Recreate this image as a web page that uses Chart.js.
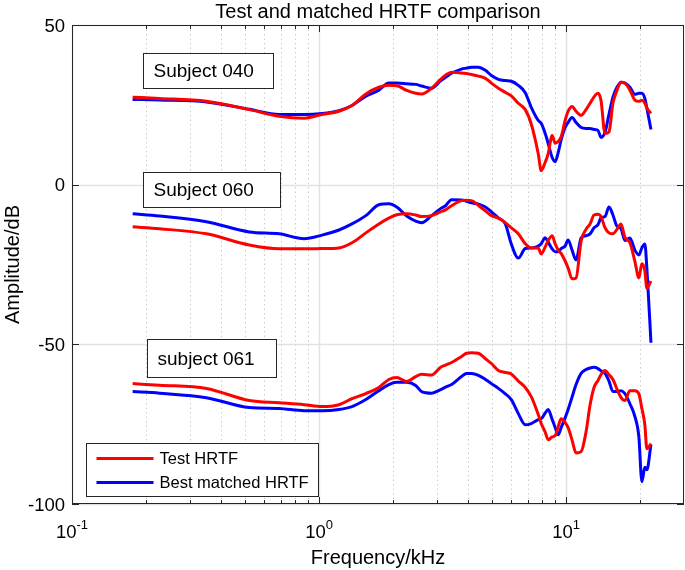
<!DOCTYPE html>
<html><head><meta charset="utf-8">
<script src="https://cdn.jsdelivr.net/npm/chart.js@4"></script>
<style>html,body{margin:0;padding:0;background:#fff}#wrap{width:685px;height:570px;position:relative}</style>
</head><body><div id="wrap"><canvas id="c"></canvas></div>
<script>
// ---- data (frequency in kHz, amplitude in dB) ----
const freqKHz = [0.176,0.226,0.350,0.522,0.690,0.870,1.028,1.204,1.359,1.547,1.746,1.916,2.063,2.264,2.461,2.602,2.855,3.104,3.251,3.438,3.772,3.953,4.140,4.418,4.714,4.984,5.319,5.675,6.000,6.405,6.834,7.225,7.712,7.929,8.229,8.461,8.780,9.028,9.284,9.546,9.908,10.19,10.57,10.97,11.50,12.04,12.50,12.97,13.46,13.84,14.37,14.91,15.47,16.06,16.67,17.30,18.12,18.98,19.70,20.26,20.83,21.22,22.05];
const test040  = [27.4,27.0,26.1,23.5,21.4,20.8,22.0,23.0,24.8,28.4,30.5,31.1,31.0,29.5,28.6,28.4,30.2,33.0,34.3,35.2,35.0,34.8,34.5,34.0,33.3,31.8,30.2,28.9,27.8,25.5,23.5,19.0,9.7,4.4,7.0,9.7,15.4,13.0,13.5,15.0,20.1,23.0,24.5,23.0,21.7,23.5,25.5,27.5,28.6,26.4,16.0,16.5,25.5,29.5,32.1,31.8,29.6,26.5,26.1,26.4,25.5,24.0,22.3];
const match040 = [26.7,26.5,25.9,23.6,22.0,22.0,22.3,23.2,24.8,27.7,29.6,31.8,31.8,31.6,31.4,30.9,30.2,32.5,33.6,34.9,36.2,36.5,36.8,36.8,35.8,34.2,33.0,32.6,32.4,31.1,28.8,24.2,20.1,19.2,16.0,12.9,8.5,7.2,10.0,14.0,17.9,19.5,21.0,19.5,17.9,17.6,17.6,17.3,17.0,14.8,16.4,22.0,27.4,30.5,32.1,31.8,30.5,28.3,28.6,28.6,27.0,24.0,17.3];
const test060  = [-13.2,-13.8,-15.4,-18.9,-20.1,-20.1,-20.0,-19.8,-18.2,-15.1,-12.3,-10.5,-9.4,-9.1,-9.5,-10.0,-9.7,-8.5,-7.9,-6.6,-5.0,-4.9,-5.0,-6.5,-8.2,-9.7,-10.5,-11.9,-13.5,-15.4,-18.5,-19.8,-19.8,-21.7,-19.5,-17.5,-16.0,-18.5,-20.5,-21.5,-23.9,-26.1,-29.5,-29.2,-17.6,-14.0,-12.3,-9.5,-9.3,-10.0,-13.5,-15.1,-15.4,-14.0,-12.3,-16.5,-18.2,-24.0,-29.2,-24.8,-27.0,-32.4,-30.2];
const match060 = [-9.1,-9.8,-11.6,-14.8,-15.4,-16.9,-15.8,-14.2,-12.3,-9.7,-6.3,-6.0,-7.0,-9.8,-11.4,-11.9,-9.7,-7.5,-6.6,-4.7,-4.8,-5.2,-5.7,-6.1,-7.0,-8.5,-10.4,-12.3,-18.6,-23.0,-20.0,-19.8,-19.2,-18.5,-16.6,-18.0,-20.1,-21.0,-21.0,-20.0,-19.2,-17.3,-20.5,-23.6,-16.7,-16.0,-15.4,-13.5,-12.5,-10.4,-10.0,-7.0,-9.5,-13.0,-13.8,-17.5,-16.7,-20.5,-22.0,-19.8,-18.6,-26.1,-49.5];
const test061  = [-62.3,-62.8,-63.8,-67.6,-68.3,-68.9,-69.5,-68.9,-67.0,-65.4,-63.5,-61.0,-60.4,-61.6,-60.1,-59.4,-59.6,-57.2,-56.5,-55.7,-53.8,-52.8,-52.6,-52.8,-54.5,-56.0,-58.2,-58.8,-59.3,-61.5,-63.5,-66.4,-72.0,-74.8,-77.5,-79.9,-79.0,-78.6,-75.8,-73.3,-74.5,-76.1,-80.0,-84.0,-83.6,-77.4,-69.0,-63.5,-61.3,-59.5,-58.2,-59.5,-61.0,-64.0,-66.6,-67.6,-64.5,-64.5,-65.5,-70.1,-75.2,-82.7,-81.1];
const match061 = [-64.8,-65.3,-66.7,-69.8,-70.1,-70.8,-70.8,-70.4,-69.5,-67.3,-64.5,-62.6,-61.9,-61.9,-62.9,-64.8,-65.3,-64.2,-63.4,-62.6,-60.1,-59.1,-59.1,-59.7,-61.0,-62.3,-63.8,-65.5,-67.3,-71.7,-75.2,-74.8,-73.6,-73.3,-71.5,-70.4,-73.5,-76.0,-78.3,-76.1,-73.0,-70.4,-66.5,-62.6,-59.1,-57.9,-57.4,-57.2,-57.6,-58.3,-59.1,-61.5,-64.8,-64.8,-64.5,-65.4,-68.6,-72.6,-79.0,-93.0,-88.5,-89.3,-81.4];

const xMajorTicks = [0.1, 1, 10];
const xTickExponents = ['-1', '0', '1'];
const xMinorTicks = [0.2,0.3,0.4,0.5,0.6,0.7,0.8,0.9,2,3,4,5,6,7,8,9,20];
const yTicks = [-100, -50, 0, 50];
const subjectNames = ['Subject 040', 'Subject 060', 'subject 061'];
const seriesNames = ['Test HRTF', 'Best matched HRTF'];

// annotation boxes in data coordinates [fLeft, fRight, dBTop, dBBottom]
const subjectBoxes = [[0.193,0.652,41.2,30.3],[0.193,0.697,4.0,-7.0],[0.2006,0.670,-48.3,-60.2]];

const FONT = '"Liberation Sans", Arial, Helvetica, sans-serif';
const INK = '#262626';
const pts = arr => freqKHz.map((f, i) => ({x: f, y: arr[i]}));
const RED = '#ff0000', BLUE = '#0000ff';
function ds(label, arr, color){
  return {label, data: pts(arr), borderColor: color, backgroundColor: color, borderWidth: 3,
          pointRadius: 0, cubicInterpolationMode: 'monotone', fill: false};
}

const hrtfPlugin = {
  id: 'hrtf',
  beforeDraw(chart){
    const c = chart.ctx; c.save(); c.fillStyle = '#fff'; c.fillRect(0,0,chart.width,chart.height); c.restore();
  },
  beforeDatasetsDraw(chart){
    const {ctx: c, chartArea: a, scales: {x, y}} = chart;
    c.save();
    c.lineWidth = 1;
    c.strokeStyle = '#cccccc'; c.setLineDash([1.5, 3]);
    xMinorTicks.forEach(v => { const p = Math.round(x.getPixelForValue(v)) + 0.5;
      c.beginPath(); c.moveTo(p, a.top); c.lineTo(p, a.bottom); c.stroke(); });
    c.setLineDash([]); c.strokeStyle = '#e2e2e2'; c.lineWidth = 1.5;
    xMajorTicks.forEach(v => { const p = Math.round(x.getPixelForValue(v)) + 0.5;
      c.beginPath(); c.moveTo(p, a.top); c.lineTo(p, a.bottom); c.stroke(); });
    yTicks.forEach(v => { const p = Math.round(y.getPixelForValue(v)) + 0.5;
      c.beginPath(); c.moveTo(a.left, p); c.lineTo(a.right, p); c.stroke(); });
    c.restore();
  },
  afterDatasetsDraw(chart){
    const {ctx: c, chartArea: a, scales: {x, y}} = chart;
    c.save();
    // box
    c.strokeStyle = INK; c.lineWidth = 1;
    c.strokeRect(Math.round(a.left)+0.5, Math.round(a.top)+0.5, Math.round(a.right-a.left)-1, Math.round(a.bottom-a.top)-1);
    // ticks
    const tick = (x1,y1,x2,y2) => { c.beginPath(); c.moveTo(x1,y1); c.lineTo(x2,y2); c.stroke(); };
    xMajorTicks.forEach(v => { const p = Math.round(x.getPixelForValue(v))+0.5; tick(p,a.top,p,a.top+7); tick(p,a.bottom,p,a.bottom-7); });
    xMinorTicks.forEach(v => { const p = Math.round(x.getPixelForValue(v))+0.5; tick(p,a.top,p,a.top+4); tick(p,a.bottom,p,a.bottom-4); });
    yTicks.forEach(v => { const p = Math.round(y.getPixelForValue(v))+0.5; tick(a.left,p,a.left+7,p); tick(a.right,p,a.right-7,p); });
    // y tick labels
    c.fillStyle = '#000'; c.font = '18.5px ' + FONT; c.textAlign = 'right'; c.textBaseline = 'middle';
    yTicks.forEach(v => c.fillText(String(v), a.left - 7, y.getPixelForValue(v) + 1.5));
    // x tick labels 10^n
    xMajorTicks.forEach((v, i) => {
      const p = x.getPixelForValue(v);
      c.font = '18.5px ' + FONT; const w1 = c.measureText('10').width;
      c.font = '13px ' + FONT; const w2 = c.measureText(xTickExponents[i]).width;
      const left = p - (w1 + w2) / 2;
      c.textAlign = 'left'; c.textBaseline = 'alphabetic';
      c.font = '18.5px ' + FONT; c.fillText('10', left, a.bottom + 34);
      c.font = '13px ' + FONT; c.fillText(xTickExponents[i], left + w1, a.bottom + 25);
    });
    // titles
    c.textAlign = 'center'; c.textBaseline = 'middle'; c.font = '20px ' + FONT;
    c.fillText('Test and matched HRTF comparison', (a.left + a.right) / 2, 12);
    c.fillText('Frequency/kHz', (a.left + a.right) / 2, 558);
    c.save(); c.translate(13, (a.top + a.bottom) / 2); c.rotate(-Math.PI/2);
    c.fillText('Amplitude/dB', 0, 0); c.restore();
    // subject boxes
    subjectBoxes.forEach((b, i) => {
      const l = Math.round(x.getPixelForValue(b[0]))+0.5, r = Math.round(x.getPixelForValue(b[1]))+0.5;
      const t = Math.round(y.getPixelForValue(b[2]))+0.5, bt = Math.round(y.getPixelForValue(b[3]))+0.5;
      c.fillStyle = '#fff'; c.fillRect(l, t, r-l, bt-t);
      c.strokeStyle = INK; c.lineWidth = 1; c.strokeRect(l, t, r-l, bt-t);
      c.fillStyle = '#000'; c.font = '19px ' + FONT; c.textAlign = 'left'; c.textBaseline = 'middle';
      c.fillText(subjectNames[i], l + 10, (t + bt) / 2 + 1);
    });
    // legend
    const lx = a.left + 14.5, ly = a.bottom - 60.5, lw = 232, lh = 53;
    c.fillStyle = '#fff'; c.fillRect(lx, ly, lw, lh);
    c.strokeStyle = INK; c.lineWidth = 1; c.strokeRect(lx, ly, lw, lh);
    [RED, BLUE].forEach((col, i) => {
      const yy = ly + 15 + i * 24;
      c.strokeStyle = col; c.lineWidth = 3; c.beginPath(); c.moveTo(lx + 10, yy); c.lineTo(lx + 67, yy); c.stroke();
      c.fillStyle = '#000'; c.font = '16.5px ' + FONT; c.textAlign = 'left'; c.textBaseline = 'middle';
      c.fillText(seriesNames[i], lx + 73, yy + 1);
    });
    c.restore();
  }
};

new Chart(document.getElementById('c'), {
  type: 'line',
  data: { datasets: [
    ds(seriesNames[0] + ' 040', test040, RED), ds(seriesNames[1] + ' 040', match040, BLUE),
    ds(seriesNames[0] + ' 060', test060, RED), ds(seriesNames[1] + ' 060', match060, BLUE),
    ds(seriesNames[0] + ' 061', test061, RED), ds(seriesNames[1] + ' 061', match061, BLUE)
  ]},
  options: {
    responsive: true, maintainAspectRatio: false, animation: false, devicePixelRatio: 1,
    layout: { padding: { left: 72, right: 1, top: 25, bottom: 66 } },
    plugins: { legend: { display: false }, title: { display: false }, tooltip: { enabled: false } },
    scales: {
      x: { type: 'logarithmic', min: 0.1, max: 30, display: false },
      y: { type: 'linear', min: -100, max: 50, display: false }
    }
  },
  plugins: [hrtfPlugin]
});
</script></body></html>
